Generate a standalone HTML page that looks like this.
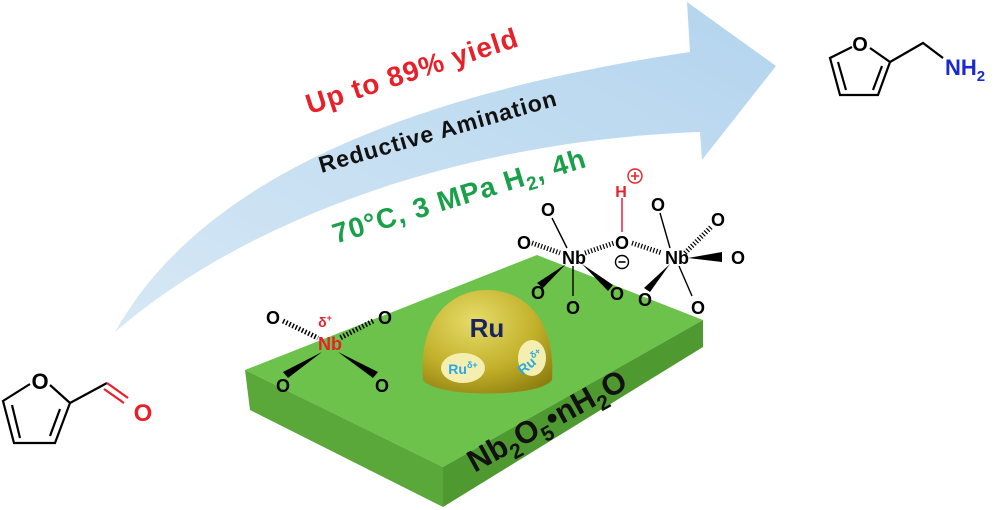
<!DOCTYPE html>
<html><head><style>
html,body{margin:0;padding:0;background:#fff}
svg{display:block}
text{font-family:"Liberation Sans",sans-serif;font-weight:bold}
</style></head><body>
<svg width="1000" height="510" viewBox="0 0 1000 510" xmlns="http://www.w3.org/2000/svg">
<defs>
<linearGradient id="arr" x1="0" y1="1" x2="1" y2="0">
<stop offset="0" stop-color="#d6e8f5"/><stop offset="1" stop-color="#b3d4ee"/>
</linearGradient>
<radialGradient id="ru" cx="0.4" cy="0.3" r="0.8">
<stop offset="0" stop-color="#e6dc6a"/><stop offset="0.6" stop-color="#c2b02a"/><stop offset="1" stop-color="#8f7f10"/>
</radialGradient>
</defs>
<!-- arrow -->
<path d="M115,332 C170,235 300,110 690,52 L687,2 L776,66 L702,160 L700,132 C470,140 250,215 115,332 Z" fill="url(#arr)"/>
<text transform="translate(415,80) rotate(-18)" text-anchor="middle" font-size="28" letter-spacing="1" fill="#e8202a">Up to 89% yield</text>
<text transform="translate(440,139) rotate(-16)" text-anchor="middle" font-size="23" letter-spacing="1" fill="#111">Reductive Amination</text>
<text transform="translate(462,205) rotate(-17)" text-anchor="middle" font-size="28" letter-spacing="1" fill="#1aa04a">70°C, 3 MPa H<tspan font-size="19" dy="6">2</tspan><tspan dy="-6">, 4h</tspan></text>
<!-- slab -->
<polygon points="245,370 537,255 703,320 443,467" fill="#6cc24a"/>
<polygon points="245,370 443,467 443,507 250,410" fill="#5aa83a"/>
<polygon points="443,467 703,320 703,347 443,507" fill="#4e9a30"/>
<text transform="translate(552,430) rotate(-29)" text-anchor="middle" font-size="31" fill="#111">Nb<tspan font-size="21" dy="8">2</tspan><tspan dy="-8">O</tspan><tspan font-size="21" dy="8">5</tspan><tspan dy="-8">•nH</tspan><tspan font-size="21" dy="8">2</tspan><tspan dy="-8">O</tspan></text>
<!-- Ru dome -->
<path d="M423,380 C418,320 450,290 487,290 C525,290 556,320 552,380 C540,398 435,398 423,380 Z" fill="url(#ru)"/>
<ellipse cx="463" cy="368" rx="22" ry="15" fill="#f4efb0"/>
<ellipse cx="532" cy="358" rx="14" ry="18" fill="#f4efb0"/>
<text x="487" y="337" text-anchor="middle" font-size="26" fill="#1a2560">Ru</text>
<text x="463" y="374" text-anchor="middle" font-size="14" fill="#2aa8e0">Ru<tspan font-size="9" dy="-6">δ+</tspan></text>
<text transform="translate(534,366) rotate(-40)" text-anchor="middle" font-size="14" fill="#2aa8e0">Ru<tspan font-size="9" dy="-6">δ+</tspan></text>
<!-- left Nb -->
<g stroke="#000" stroke-width="1.6">
<path d="M283,321 L318,338 M373,321 L340,338" stroke-dasharray="1.5,2" stroke-width="5"/>
</g>
<polygon points="322,352 288,378 283,372" fill="#000"/>
<polygon points="338,352 378,372 373,378" fill="#000"/>
<text x="330" y="350" text-anchor="middle" font-size="18" fill="#e8202a">Nb</text>
<text x="325" y="327" text-anchor="middle" font-size="14" font-weight="normal" fill="#e8202a">δ<tspan font-size="9" dy="-6">+</tspan></text>
<g font-size="18" fill="#000" text-anchor="middle">
<text x="273" y="324">O</text><text x="385" y="324">O</text>
<text x="283" y="392">O</text><text x="382" y="392">O</text>
</g>
<!-- top Nb complex -->
<g stroke="#000" stroke-width="1.4" fill="none">
<path d="M532,243 L560,253 M585,253 L614,243 M632,243 L662,253" stroke-width="5" stroke-dasharray="1.2,2"/>
<path d="M685,253 L712,226" stroke-width="5" stroke-dasharray="1.2,2"/>
<path d="M552,218 L567,248 M573,266 L573,296 M660,213 L670,248 M679,266 L692,296"/>
</g>
<line x1="622" y1="198" x2="622" y2="232" stroke="#e8202a" stroke-width="1.5"/>
<polygon points="566,264 543,288 537,283" fill="#000"/>
<polygon points="582,264 613,285 608,291" fill="#000"/>
<polygon points="670,264 650,292 644,288" fill="#000"/>
<polygon points="688,258 722,252 722,262" fill="#000"/>
<g font-size="18" fill="#000" text-anchor="middle">
<text x="574" y="264">Nb</text><text x="677" y="264">Nb</text>
<text x="524" y="249">O</text><text x="548" y="216">O</text><text x="622" y="249">O</text>
<text x="658" y="211">O</text><text x="718" y="226">O</text><text x="738" y="264">O</text>
<text x="538" y="299">O</text><text x="573" y="314">O</text><text x="617" y="300">O</text>
<text x="645" y="306">O</text><text x="698" y="314">O</text>
</g>
<text x="621" y="197" text-anchor="middle" font-size="16" font-weight="normal" fill="#e8202a">H</text>
<circle cx="635" cy="176" r="7" fill="none" stroke="#e8202a" stroke-width="1.4"/>
<path d="M631,176 h8 M635,172 v8" stroke="#e8202a" stroke-width="1.6"/>
<circle cx="622" cy="262" r="6.5" fill="none" stroke="#000" stroke-width="1.4"/>
<path d="M618.5,262 h7" stroke="#000" stroke-width="1.6"/>
<!-- furfural -->
<g stroke="#000" stroke-width="2.2" fill="none">
<path d="M30,384 L3,401 L14,443 L55,443 L70,403 L50,385"/>
<path d="M12,405 L20,438 M60,409 L50,436"/>
<path d="M70,403 L107,383"/>
</g>
<path d="M107,383 L128,398 M104,389 L124,403" stroke="#e8202a" stroke-width="2.2"/>
<text x="40" y="389" text-anchor="middle" font-size="22" font-weight="normal" fill="#000">O</text>
<text x="143" y="421" text-anchor="middle" font-size="24" font-weight="normal" fill="#e8202a">O</text>
<!-- furfurylamine -->
<g stroke="#000" stroke-width="2.2" fill="none">
<path d="M852,47 L830,58 L840,95 L878,95 L890,62 L870,48"/>
<path d="M838,62 L846,90 M882,66 L873,90"/>
<path d="M890,62 L923,43 L943,58"/>
</g>
<text x="860" y="51" text-anchor="middle" font-size="20" font-weight="normal" fill="#000">O</text>
<text x="945" y="75" font-size="22" fill="#1a2ad0">NH<tspan font-size="15" dy="6">2</tspan></text>
</svg>
</body></html>
